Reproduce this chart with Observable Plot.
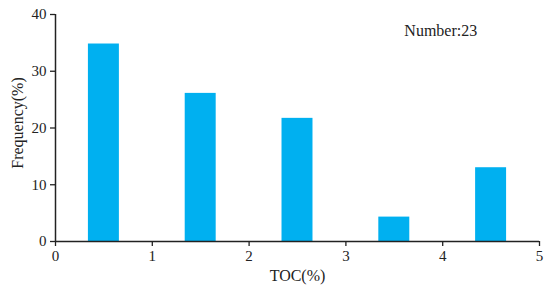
<!DOCTYPE html>
<html>
<head>
<meta charset="utf-8">
<script src="https://cdn.jsdelivr.net/npm/d3@7"></script>
<script src="https://cdn.jsdelivr.net/npm/@observablehq/plot@0.6"></script>
<style>
  html, body { margin: 0; padding: 0; background: #fff; }
  #chart svg { display: block; }
</style>
</head>
<body>
<div id="chart"></div>
<script>
const binStart = [0, 1, 2, 3, 4];
const frequency = [34.8, 26.1, 21.7, 4.3, 13.0];
const xTicks = [0, 1, 2, 3, 4, 5];
const yTicks = [0, 10, 20, 30, 40];
const annotation = "Number:23";

const data = binStart.map((s, i) => ({ x1: s + 0.34, x2: s + 0.66, y: frequency[i] }));

const chart = Plot.plot({
  width: 550,
  height: 295,
  marginLeft: 55,
  marginRight: 11,
  marginTop: 14,
  marginBottom: 54,
  style: { fontFamily: "'Liberation Serif', 'Times New Roman', serif", fontSize: "15px", color: "#222", background: "#fff" },
  x: { domain: [0, 5] },
  y: { domain: [0, 40] },
  marks: [
    Plot.rectY(data, { x1: "x1", x2: "x2", y: "y", fill: "#00B0F0" }),
    Plot.axisX({ ticks: xTicks, tickFormat: d3.format("d"), tickSize: 5, tickPadding: 4, stroke: "#222", strokeWidth: 1.3, fontSize: 15, label: null }),
    Plot.axisY({ ticks: yTicks, tickFormat: d3.format("d"), tickSize: 5, tickPadding: 4, stroke: "#222", strokeWidth: 1.3, fontSize: 15, label: null }),
    Plot.ruleY([0], { stroke: "#222", strokeWidth: 1.5 }),
    Plot.ruleX([0], { stroke: "#222", strokeWidth: 1.5 }),
    Plot.text(["TOC(%)"], { frameAnchor: "bottom", dy: 39, fontSize: 16, fill: "#222" }),
    Plot.text(["Frequency(%)"], { frameAnchor: "left", textAnchor: "middle", dx: -38, dy: -5, rotate: -90, fontSize: 16, fill: "#222" }),
    Plot.text([annotation], { x: 3.98, y: 37.2, fontSize: 16, fill: "#222" })
  ]
});
document.getElementById("chart").appendChild(chart);
</script>
</body>
</html>
